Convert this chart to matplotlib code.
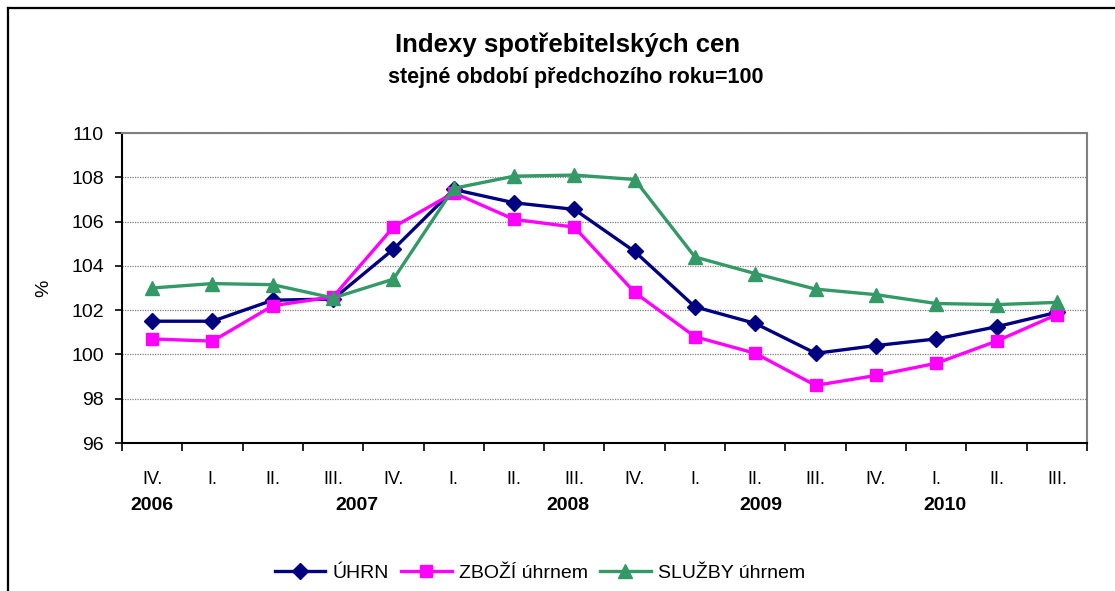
import matplotlib
matplotlib.use("Agg")
import matplotlib.pyplot as plt
from matplotlib.lines import Line2D
import numpy as np

# ---- data ----
periods = ["IV.", "I.", "II.", "III.", "IV.", "I.", "II.", "III.",
           "IV.", "I.", "II.", "III.", "IV.", "I.", "II.", "III."]
years = ["2006", "2007", "2008", "2009", "2010"]
uhrn = [101.5, 101.5, 102.45, 102.5, 104.75, 107.45, 106.85, 106.55,
        104.65, 102.15, 101.4, 100.05, 100.4, 100.7, 101.25, 101.9]
zbozi = [100.7, 100.6, 102.2, 102.6, 105.75, 107.3, 106.1, 105.75,
         102.8, 100.8, 100.05, 98.6, 99.05, 99.6, 100.6, 101.8]
sluzby = [103.0, 103.2, 103.15, 102.55, 103.4, 107.5, 108.05, 108.1,
          107.9, 104.4, 103.65, 102.95, 102.7, 102.3, 102.25, 102.35]
series_names = ["ÚHRN", "ZBOŽÍ úhrnem", "SLUŽBY úhrnem"]

# ---- layout ----
year_at = [0, 3.4, 6.9, 10.1, 13.15]

plt.rcParams['font.family'] = ['Liberation Sans', 'DejaVu Sans']

W, H = 1115, 591
fig = plt.figure(figsize=(W / 100, H / 100), dpi=100)
ax = fig.add_axes([122 / W, 1 - 443 / H, (1087 - 122) / W, (443 - 133) / H])

x = np.arange(len(periods))
styles = [("#000080", "D", 7.8), ("#FF00FF", "s", 8.0), ("#339966", "^", 9.5)]
for vals, name, (c, m, ms) in zip([uhrn, zbozi, sluzby], series_names, styles):
    ax.plot(x, vals, color=c, marker=m, markersize=ms, linewidth=2.4,
            markeredgecolor=c, label=name, clip_on=False)

ax.set_xlim(-0.5, len(periods) - 0.5)
ax.set_ylim(96, 110)
ax.set_yticks(np.arange(96, 111, 2))
ax.tick_params(axis='y', labelsize=14, length=5, width=1.2, direction='out', pad=8)
ax.grid(axis='y', color='#808080', linestyle=(0, (1, 1)), linewidth=0.9)
ax.set_axisbelow(True)

ax.set_xticks(x)
ax.set_xticklabels(periods)
ax.tick_params(axis='x', which='major', length=0, labelsize=13, pad=20)
ax.set_xticks(np.arange(-0.5, len(periods), 1), minor=True)
ax.tick_params(axis='x', which='minor', length=6, width=1.2, direction='out')

for yr, p in zip(years, year_at):
    ax.text(p, -0.201, yr, transform=ax.get_xaxis_transform(), ha='center',
            va='center', fontsize=14, fontweight='bold')

ax.set_ylabel("%", fontsize=14)
ax.yaxis.set_label_coords(-0.072, 0.5)

for s in ['left', 'bottom']:
    ax.spines[s].set_color('black')
    ax.spines[s].set_linewidth(1.5)
for s in ['top', 'right']:
    ax.spines[s].set_color('#808080')
    ax.spines[s].set_linewidth(1.5)

fig.text(568 / W, 1 - 45 / H, "Indexy spotřebitelských cen", ha='center',
         va='center', fontsize=18.5, fontweight='bold')
fig.text(576 / W, 1 - 78 / H, "stejné období předchozího roku=100", ha='center',
         va='center', fontsize=15.5, fontweight='bold')

fig.legend(loc='center', bbox_to_anchor=(540 / W, 1 - 573 / H), ncol=3,
           frameon=False, fontsize=14, handlelength=2.6, handletextpad=0.4,
           columnspacing=0.6, borderpad=0)

# outer chart frame (cropped on right and bottom)
fig.add_artist(Line2D([8 / W, 8 / W], [0, 1 - 8 / H], color='black', linewidth=1.6,
                      transform=fig.transFigure))
fig.add_artist(Line2D([8 / W, 1], [1 - 8 / H, 1 - 8 / H], color='black', linewidth=1.6,
                      transform=fig.transFigure))

fig.savefig("out.png", dpi=100)
